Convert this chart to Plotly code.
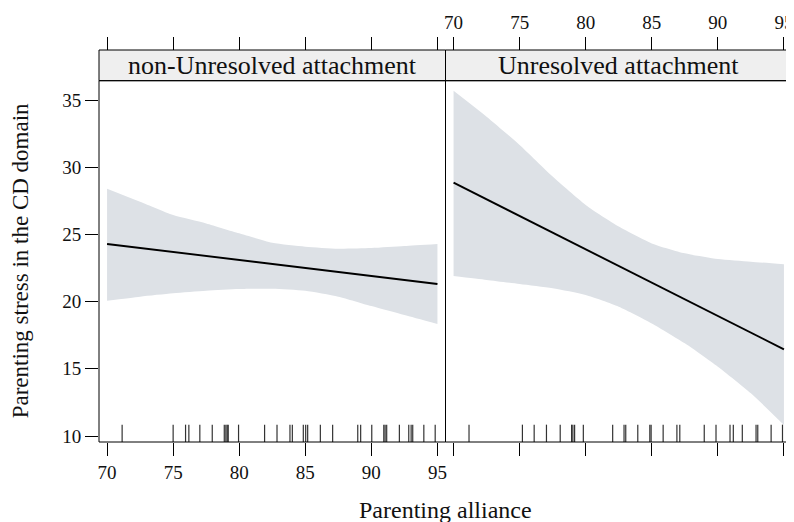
import plotly.graph_objects as go

# ---------------- data ----------------
panels = ["non-Unresolved attachment", "Unresolved attachment"]
x_grid = [70, 72.5, 75, 77.5, 80, 82.5, 85, 87.5, 90, 92.5, 95]

fit_nonU = [24.29, 23.99, 23.69, 23.40, 23.10, 22.80, 22.50, 22.20, 21.91, 21.61, 21.31]
upper_nonU = [28.40, 27.43, 26.44, 25.82, 25.08, 24.38, 24.09, 23.94, 23.99, 24.14, 24.29]
lower_nonU = [20.07, 20.37, 20.62, 20.81, 20.94, 20.96, 20.81, 20.37, 19.67, 19.00, 18.33]

fit_U = [28.85, 27.61, 26.37, 25.13, 23.89, 22.65, 21.41, 20.17, 18.93, 17.69, 16.45]
upper_U = [35.69, 33.76, 31.65, 29.30, 27.19, 25.58, 24.33, 23.59, 23.17, 22.97, 22.77]
lower_U = [21.90, 21.61, 21.31, 20.99, 20.49, 19.62, 18.38, 16.90, 15.16, 13.18, 10.82]

rug_nonU = [71.14, 75.00, 75.94, 76.19, 77.02, 77.96, 78.87, 78.99, 79.09, 79.17, 79.95,
            81.92, 82.86, 83.84, 84.02, 84.85, 85.03, 85.18, 86.14, 87.07, 88.97, 89.19,
            90.03, 90.94, 91.04, 91.16, 92.12, 92.83, 93.01, 93.13, 93.97, 94.83]
rug_U = [71.17, 75.21, 76.10, 77.03, 78.07, 78.93, 79.03, 79.16, 79.82, 82.04, 82.90,
         83.03, 83.94, 84.85, 84.95, 85.86, 86.90, 87.12, 88.97, 89.86, 90.92, 91.17,
         91.85, 92.89, 93.02, 94.03, 94.89]

x_ticks = [70, 75, 80, 85, 90, 95]
y_ticks = [10, 15, 20, 25, 30, 35]
x_range = [69.39, 95.61]
y_range = [9.554, 36.436]

x_title = "Parenting alliance"
y_title = "Parenting stress in the CD domain"

# ---------------- style ----------------
FONT = "Liberation Serif"
BAND = "#dde1e6"
STRIP = "#efefef"
OFF = 8  # page body margin
W, H = 794 - OFF, 522 - OFF
ML, MR, MT = 99 - OFF, 2, 50 - OFF
MB = H - (442 - OFF)
PH = H - MT - MB
panel_top = (H - MB - (80.7 - OFF)) / PH  # fraction of plot area below strip

fig = go.Figure()

series = [
    (fit_nonU, upper_nonU, lower_nonU, "x", "y"),
    (fit_U, upper_U, lower_U, "x2", "y2"),
]
for fit, up, lo, xa, ya in series:
    fig.add_trace(go.Scatter(
        x=x_grid, y=lo, mode="lines",
        line=dict(width=0, color=BAND, shape="spline", smoothing=0.6),
        xaxis=xa, yaxis=ya, hoverinfo="skip", showlegend=False))
    fig.add_trace(go.Scatter(
        x=x_grid, y=up, mode="lines", fill="tonexty", fillcolor=BAND,
        line=dict(width=0, color=BAND, shape="spline", smoothing=0.6),
        xaxis=xa, yaxis=ya, hoverinfo="skip", showlegend=False))
    fig.add_trace(go.Scatter(
        x=x_grid, y=fit, mode="lines", line=dict(color="black", width=1.9),
        xaxis=xa, yaxis=ya, showlegend=False))

# empty traces so the top axes are created
fig.add_trace(go.Scatter(x=[], y=[], xaxis="x3", yaxis="y", showlegend=False))
fig.add_trace(go.Scatter(x=[], y=[], xaxis="x4", yaxis="y2", showlegend=False))

shapes = []
for rug, xa in [(rug_nonU, "x"), (rug_U, "x2")]:
    ya = "y" if xa == "x" else "y2"
    for v in rug:
        shapes.append(dict(type="line", xref=xa, yref=f"{ya} domain",
                           x0=v, x1=v, y0=0, y1=0.048,
                           line=dict(color="rgba(0,0,0,0.8)", width=1.2)))

for xa, ya in [("x", "y"), ("x2", "y2")]:
    shapes.append(dict(type="rect", xref=f"{xa} domain", yref=f"{ya} domain",
                       x0=0, x1=1, y0=0, y1=1, line=dict(color="black", width=1)))
    shapes.append(dict(type="rect", xref=f"{xa} domain", yref="paper",
                       x0=0, x1=1, y0=panel_top, y1=1, fillcolor=STRIP,
                       line=dict(color="black", width=1), layer="below"))

annotations = []
for name, xa in zip(panels, ["x", "x2"]):
    annotations.append(dict(text=name, xref=f"{xa} domain", yref="paper",
                            x=0.5, y=(panel_top + 1) / 2, showarrow=False,
                            xanchor="center", yanchor="middle",
                            font=dict(family=FONT, size=26, color="#111")))
annotations.append(dict(text=x_title, xref="paper", yref="paper", x=0.5,
                        y=-((510 - OFF) - (H - MB)) / PH, showarrow=False,
                        xanchor="center", yanchor="middle",
                        font=dict(family=FONT, size=24, color="#111")))
annotations.append(dict(text=y_title, xref="paper", yref="paper",
                        x=((20 - OFF) - ML) / (W - ML - MR), y=panel_top / 2,
                        textangle=-90, showarrow=False, xanchor="center",
                        yanchor="middle",
                        font=dict(family=FONT, size=23, color="#111")))

tickfont = dict(family=FONT, size=19, color="#111")
common_x = dict(range=x_range, tickvals=x_ticks, ticks="outside", ticklen=13,
                tickcolor="black", tickwidth=1, showgrid=False, zeroline=False,
                showline=False, tickfont=tickfont, fixedrange=True, automargin=False)
common_y = dict(range=y_range, tickvals=y_ticks, ticks="outside", ticklen=13,
                tickcolor="black", tickwidth=1, showgrid=False, zeroline=False,
                showline=False, tickfont=tickfont, domain=[0, panel_top],
                fixedrange=True, automargin=False)

fig.update_layout(
    width=W, height=H,
    margin=dict(l=ML, r=MR, t=MT, b=MB, autoexpand=False),
    paper_bgcolor="white", plot_bgcolor="rgba(0,0,0,0)",
    font=dict(family=FONT, color="#111"),
    showlegend=False,
    xaxis=dict(domain=[0, 0.5], anchor="y", side="bottom", showticklabels=True, **common_x),
    xaxis2=dict(domain=[0.5, 1], anchor="y2", side="bottom", showticklabels=False, **common_x),
    xaxis3=dict(overlaying="x", anchor="free", position=1, side="top",
                showticklabels=False, **common_x),
    xaxis4=dict(overlaying="x2", anchor="free", position=1, side="top",
                showticklabels=True, **common_x),
    yaxis=dict(anchor="x", side="left", showticklabels=True, **common_y),
    yaxis2=dict(anchor="x2", side="right", showticklabels=False, matches="y", **common_y),
    shapes=shapes,
    annotations=annotations,
)

fig.write_html("out.html")
